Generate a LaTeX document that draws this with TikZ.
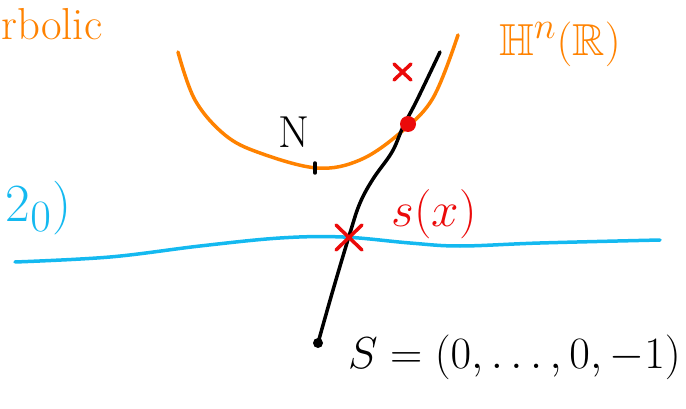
\documentclass[tikz,border=0pt]{standalone}
\usepackage{amssymb}
\definecolor{hypOrange}{RGB}{255,130,0}
\definecolor{planeBlue}{RGB}{20,185,240}
\definecolor{markRed}{RGB}{235,10,10}
\begin{document}
\begin{tikzpicture}[x=1pt,y=-1pt,line width=3.5pt,line cap=round,line join=round,
  lbl/.style={inner sep=0pt,font=\Huge,scale=1.8},
  cross/.style={draw=markRed,line width=3.5pt}]
  \useasboundingbox (0,0) rectangle (686,409);

  % hyperboloid sheet
  \draw[hypOrange] plot[smooth,tension=0.6] coordinates
    {(178,52) (195,100) (225,135) (260,153) (317,168) (360,160) (400,133) (433,98) (458,35)};
  % plane
  \draw[planeBlue] plot[smooth,tension=0.6] coordinates
    {(15,262) (110,257) (200,246) (280,238) (343,237) (410,243) (460,246) (540,243) (660,240)};
  % projection ray from S
  \draw[black] plot[smooth,tension=0.6] coordinates
    {(318,343) (333,290) (350,233) (360,203) (373,179) (392,152) (403,127) (417,100) (440,52)};

  \fill[black] (318,343) circle (5pt);
  \draw[black] (315,163) -- (315,173);
  \fill[markRed] (408,124) circle (8pt);
  \draw[cross] (394,64) -- (411,80) (394,80) -- (411,64);
  \draw[cross] (336,225) -- (362,250) (336,250) -- (362,225);

  \node[lbl,hypOrange,anchor=west] (hyp) at (-2,24) {rbolic};
  \node[lbl,hypOrange,anchor=west] (Hn) at (496,44) {$\mathbb{H}^n(\mathbb{R})$};
  \node[lbl,planeBlue,anchor=west,scale=1.2] (plane) at (2,208) {$2_0)$};
  \node[lbl,black,scale=1.0] (N) at (294,132) {N};
  \node[lbl,markRed,anchor=west,scale=1.1] (sx) at (388,214) {$s(x)$};
  \node[lbl,black,anchor=west] (S) at (345,357) {$S=(0,\dots,0,-1)$};
\end{tikzpicture}
\end{document}
